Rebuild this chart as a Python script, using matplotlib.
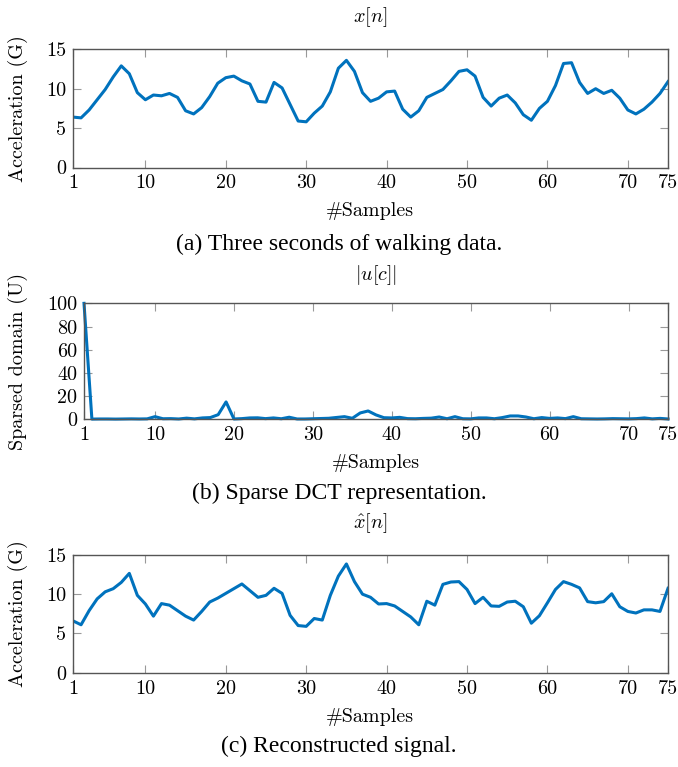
import matplotlib
matplotlib.use("Agg")
import matplotlib.pyplot as plt
import numpy as np

# samples 1..75
n = np.arange(1, 76)

# (a) raw walking data
x_raw = [6.4, 6.3, 7.3, 8.6, 9.9, 11.5, 12.9, 11.9, 9.5, 8.6,
         9.2, 9.1, 9.4, 8.9, 7.2, 6.8, 7.6, 9.0, 10.7, 11.4,
         11.6, 11.0, 10.6, 8.4, 8.3, 10.8, 10.1, 8.0, 5.9, 5.8,
         6.9, 7.8, 9.6, 12.6, 13.6, 12.2, 9.5, 8.4, 8.8, 9.6,
         9.7, 7.4, 6.4, 7.2, 8.9, 9.4, 9.9, 11.0, 12.2, 12.4,
         11.6, 8.9, 7.8, 8.8, 9.2, 8.2, 6.7, 6.0, 7.5, 8.4,
         10.4, 13.2, 13.3, 10.8, 9.4, 10.0, 9.4, 9.8, 8.8, 7.3,
         6.8, 7.4, 8.3, 9.4, 10.9]

# (b) sparse DCT coefficients |u[c]|
u_dct = [100, 0.2, 0.3, 0.3, 0.2, 0.3, 0.4, 0.3, 0.4, 2.3,
         0.5, 0.6, 0.3, 1.0, 0.4, 1.2, 1.5, 4.0, 15.0, 0.3,
         0.6, 1.2, 1.3, 0.6, 1.2, 0.5, 1.8, 0.3, 0.3, 0.5,
         0.7, 0.9, 1.6, 2.3, 0.9, 5.5, 7.2, 3.8, 1.4, 1.2,
         1.7, 0.6, 0.5, 0.8, 1.0, 2.0, 0.5, 2.3, 0.5, 0.4,
         1.2, 1.2, 0.5, 1.5, 2.9, 2.9, 2.0, 0.5, 1.5, 0.8,
         1.2, 0.6, 2.3, 0.5, 0.4, 0.3, 0.4, 0.6, 0.5, 0.4,
         0.6, 1.2, 0.4, 0.8, 0.3]

# (c) reconstructed signal
x_rec = [6.6, 6.1, 7.9, 9.4, 10.3, 10.7, 11.5, 12.65, 9.85, 8.75,
         7.2, 8.8, 8.6, 7.9, 7.2, 6.7, 7.8, 9.0, 9.5, 10.1,
         10.7, 11.3, 10.45, 9.6, 9.85, 10.75, 10.1, 7.3, 6.0, 5.9,
         6.9, 6.7, 9.85, 12.3, 13.85, 11.6, 10.0, 9.6, 8.75, 8.8,
         8.5, 7.8, 7.1, 6.1, 9.1, 8.6, 11.25, 11.55, 11.6, 10.6,
         8.8, 9.6, 8.5, 8.45, 9.0, 9.1, 8.4, 6.3, 7.25, 8.9,
         10.6, 11.6, 11.25, 10.8, 9.05, 8.9, 9.05, 10.05, 8.4, 7.8,
         7.6, 8.0, 8.0, 7.8, 10.75]

xticks = [1, 10, 20, 30, 40, 50, 60, 70, 75]

blue = "#0072BD"
frame = "#555555"
cm = "cmr10"
cap = "Liberation Serif"
fs = 14.5
cap_fs = 17

plt.rcParams["mathtext.fontset"] = "cm"

fig = plt.figure(figsize=(6.78, 7.67), dpi=100)

def style(ax, yticks):
    ax.set_xlim(1, 75)
    ax.set_xticks(xticks)
    ax.set_yticks(yticks)
    ax.tick_params(direction="in", length=6, width=0.8, color="#999999",
                   top=True, right=True, pad=5)
    for lab in ax.get_xticklabels() + ax.get_yticklabels():
        lab.set_fontfamily(cm)
        lab.set_fontsize(fs)
    for s in ax.spines.values():
        s.set_color(frame)
        s.set_linewidth(1.0)

# panel a
ax1 = fig.add_axes([0.1077, 0.7816, 0.8776, 0.1541])
ax1.plot(n, x_raw, color=blue, lw=2.2)
ax1.set_ylim(0, 15)
style(ax1, [0, 5, 10, 15])
ax1.set_ylabel("Acceleration (G)", family=cm, fontsize=fs)
ax1.yaxis.set_label_coords(-0.076, 0.5)

# panel b
ax2 = fig.add_axes([0.1239, 0.4533, 0.8614, 0.1512])
ax2.plot(n, u_dct, color=blue, lw=2.2, clip_on=False)
ax2.set_ylim(0, 100)
style(ax2, [0, 20, 40, 60, 80, 100])
ax2.set_ylabel("Sparsed domain (U)", family=cm, fontsize=fs)
ax2.yaxis.set_label_coords(-0.096, 0.5)

# panel c
ax3 = fig.add_axes([0.1077, 0.1230, 0.8776, 0.1535])
ax3.plot(n, x_rec, color=blue, lw=2.2)
ax3.set_ylim(0, 15)
style(ax3, [0, 5, 10, 15])
ax3.set_ylabel("Acceleration (G)", family=cm, fontsize=fs)
ax3.yaxis.set_label_coords(-0.076, 0.5)

# titles above each panel
fig.text(0.546, 0.978, r"$x[n]$", ha="center", va="center", fontsize=fs)
fig.text(0.555, 0.6415, r"$|u[c]|$", ha="center", va="center", fontsize=fs)
fig.text(0.546, 0.3181, r"$\hat{x}[n]$", ha="center", va="center", fontsize=fs)

# x labels
fig.text(0.546, 0.7249, "#Samples", ha="center", va="center", family=cm, fontsize=fs)
fig.text(0.555, 0.3963, "#Samples", ha="center", va="center", family=cm, fontsize=fs)
fig.text(0.546, 0.0652, "#Samples", ha="center", va="center", family=cm, fontsize=fs)

# sub-captions
fig.text(0.5, 0.6819, "(a) Three seconds of walking data.", ha="center", va="center",
         family=cap, fontsize=cap_fs)
fig.text(0.5, 0.3572, "(b) Sparse DCT representation.", ha="center", va="center",
         family=cap, fontsize=cap_fs)
fig.text(0.5, 0.0274, "(c) Reconstructed signal.", ha="center", va="center",
         family=cap, fontsize=cap_fs)

fig.savefig("out.png", dpi=100)
